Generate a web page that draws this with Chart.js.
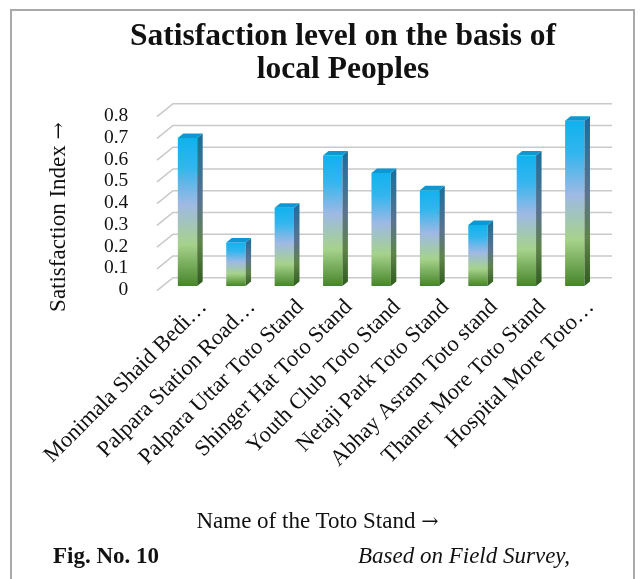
<!DOCTYPE html>
<html>
<head>
<meta charset="utf-8">
<script src="https://cdn.jsdelivr.net/npm/chart.js@4.4.1/dist/chart.umd.min.js"></script>
<style>
  html, body { margin: 0; padding: 0; background: #fff; }
  #wrap { position: relative; width: 641px; height: 579px; overflow: hidden; background: #fff; }
  #frame { position: absolute; left: 10px; top: 9px; width: 621px; height: 620px; border: 2px solid #a9a9a9; }
  canvas { position: absolute; left: 0; top: 0; }
  .txt { position: absolute; font-family: 'Liberation Serif', 'Times New Roman', serif; color: #111; white-space: nowrap; }
  .arr { font-family: 'DejaVu Serif', serif; font-size: 0.9em; }
  #title { left: 43px; top: 18px; width: 600px; text-align: center; font-size: 31.5px; font-weight: bold; line-height: 33px; }
  #ytitle { left: -62px; top: 204.5px; width: 240px; text-align: center; font-size: 23px; line-height: 23px; transform: rotate(-90deg); }
  #xtitle { left: -3px; top: 508.7px; width: 641px; text-align: center; font-size: 23px; line-height: 23px; }
  #fig { left: 53px; top: 543.7px; font-size: 23px; line-height: 23px; font-weight: bold; }
  #src { left: 358px; top: 543.7px; font-size: 23px; line-height: 23px; font-style: italic; }
</style>
</head>
<body>
<div id="wrap">
  <div id="frame"></div>
  <canvas id="chart" width="641" height="579"></canvas>
  <div class="txt" id="title">Satisfaction level on the basis of<br>local Peoples</div>
  <div class="txt" id="ytitle">Satisfaction Index <span class="arr">→</span></div>
  <div class="txt" id="xtitle">Name of the Toto Stand <span class="arr">→</span></div>
  <div class="txt" id="fig">Fig. No. 10</div>
  <div class="txt" id="src">Based on Field Survey,</div>
</div>
<script>
// values
var stands = [
    'Monimala Shaid Bedi…',
    'Palpara Station Road…',
    'Palpara Uttar Toto Stand',
    'Shinger Hat Toto Stand',
    'Youth Club Toto Stand',
    'Netaji Park Toto Stand',
    'Abhay Asram Toto stand',
    'Thaner More Toto Stand',
    'Hospital More Toto…'
];
var satisfaction = [0.68, 0.20, 0.36, 0.60, 0.52, 0.44, 0.28, 0.60, 0.76];
var yTickLabels = ['0', '0.1', '0.2', '0.3', '0.4', '0.5', '0.6', '0.7', '0.8'];

var SERIF = "'Liberation Serif', 'Times New Roman', serif";

// 3D look: bar depth and floor depth (pixels)
var BAR_DX = 5.5, BAR_DY = 4.5;
var FLOOR_FRONT = 4.7, FLOOR_DX = 16, FLOOR_DY = 13;

function vGradient(ctx, top, bottom, stops) {
    var g = ctx.createLinearGradient(0, top, 0, bottom);
    stops.forEach(function(s) { g.addColorStop(s[0], s[1]); });
    return g;
}

var FRONT_STOPS = [[0, '#10b2ee'], [0.2, '#33b5ee'], [0.45, '#9fb9e4'], [0.72, '#a6d28b'], [1, '#46852a']];
var SIDE_STOPS  = [[0, '#176f9c'], [0.45, '#5b7390'], [0.72, '#5f8449'], [1, '#2f5a1f']];

function barFill(context) {
    var chart = context.chart;
    var ys = chart.scales.y;
    if (!ys || typeof context.raw !== 'number') {
        return '#10b2ee';
    }
    var top = ys.getPixelForValue(context.raw);
    var base = ys.getPixelForValue(0);
    if (!isFinite(top) || !isFinite(base) || top === base) {
        return '#10b2ee';
    }
    return vGradient(chart.ctx, top, base, FRONT_STOPS);
}

// slanted 3D gridlines, drawn behind the bars
var gridPlugin = {
    id: 'grid3d',
    beforeDatasetsDraw: function(chart) {
        var ctx = chart.ctx, ys = chart.scales.y;
        var x0 = 157, xEnd = 612;
        ctx.save();
        ctx.strokeStyle = '#c9c9c9';
        ctx.lineWidth = 1.6;
        ys.ticks.forEach(function(t) {
            var yf = ys.getPixelForValue(t.value) + FLOOR_FRONT;
            ctx.beginPath();
            ctx.moveTo(x0, yf);
            ctx.lineTo(x0 + FLOOR_DX, yf - FLOOR_DY);
            ctx.lineTo(xEnd, yf - FLOOR_DY);
            ctx.stroke();
        });
        ctx.restore();
    }
};

// side and top faces of each bar
var barPlugin = {
    id: 'bar3d',
    afterDatasetsDraw: function(chart) {
        var ctx = chart.ctx;
        var meta = chart.getDatasetMeta(0);
        ctx.save();
        meta.data.forEach(function(bar) {
            var p = bar.getProps(['x', 'y', 'base', 'width'], true);
            var l = p.x - p.width / 2, r = p.x + p.width / 2;
            ctx.fillStyle = vGradient(ctx, p.y - BAR_DY, p.base, SIDE_STOPS);
            ctx.beginPath();
            ctx.moveTo(r, p.y);
            ctx.lineTo(r + BAR_DX, p.y - BAR_DY);
            ctx.lineTo(r + BAR_DX, p.base - BAR_DY);
            ctx.lineTo(r, p.base);
            ctx.closePath();
            ctx.fill();
            ctx.fillStyle = '#0f97d2';
            ctx.beginPath();
            ctx.moveTo(l, p.y);
            ctx.lineTo(l + BAR_DX, p.y - BAR_DY);
            ctx.lineTo(r + BAR_DX, p.y - BAR_DY);
            ctx.lineTo(r, p.y);
            ctx.closePath();
            ctx.fill();
        });
        ctx.restore();
    }
};

new Chart(document.getElementById('chart'), {
    type: 'bar',
    data: {
        labels: stands,
        datasets: [{
            label: 'Satisfaction Index',
            data: satisfaction,
            backgroundColor: barFill,
            borderWidth: 0,
            barPercentage: 0.4,
            categoryPercentage: 1.0
        }]
    },
    options: {
        responsive: false,
        devicePixelRatio: 1,
        animation: false,
        layout: { padding: { left: 0, right: 42, top: 112, bottom: 0 } },
        plugins: {
            legend: { display: false },
            tooltip: { enabled: false }
        },
        scales: {
            x: {
                grid: { display: false, drawTicks: false },
                border: { display: false },
                ticks: {
                    autoSkip: false,
                    minRotation: 45,
                    maxRotation: 45,
                    padding: 8,
                    labelOffset: 16,
                    color: '#111',
                    font: { family: SERIF, size: 22.5 }
                },
                afterFit: function(s) { s.height = 579 - 286; }
            },
            y: {
                min: 0,
                max: 0.8,
                grid: { display: false, drawTicks: false },
                border: { display: false },
                ticks: {
                    autoSkip: false,
                    stepSize: 0.1,
                    padding: 35,
                    labelOffset: 4,
                    color: '#111',
                    font: { family: SERIF, size: 19.5 },
                    callback: function(v, i) { return yTickLabels[i]; }
                },
                afterFit: function(s) { s.width = 163.3; }
            }
        }
    },
    plugins: [gridPlugin, barPlugin]
});
</script>
</body>
</html>
